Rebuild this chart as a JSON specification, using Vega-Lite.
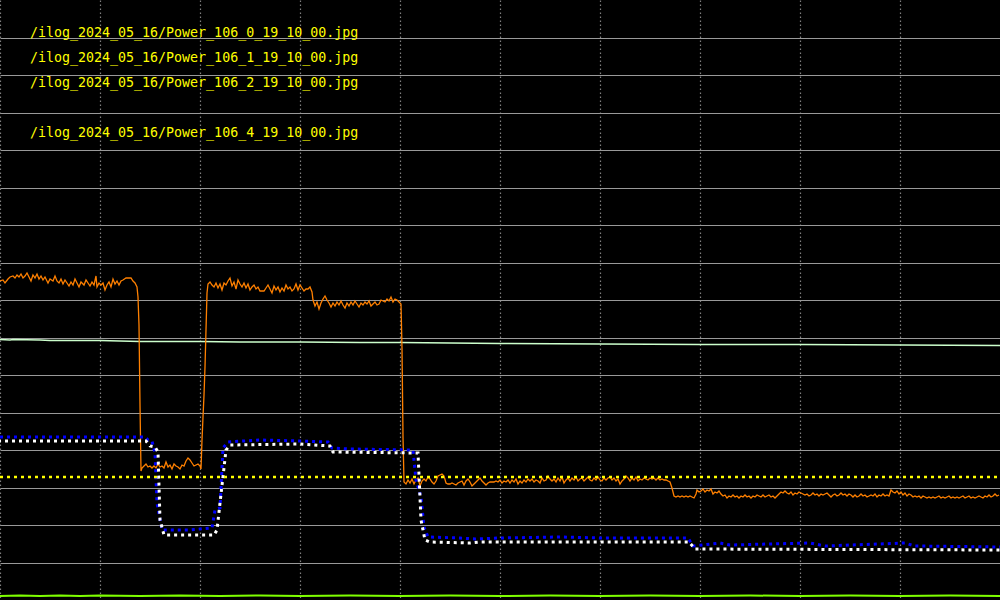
{
  "$schema": "https://vega.github.io/schema/vega-lite/v6.json",
  "width": 1000,
  "height": 600,
  "autosize": {"type": "none"},
  "padding": 0,
  "background": "#000000",
  "config": {
    "view": {"stroke": null},
    "axis": {"minExtent": 0, "maxExtent": 0, "domain": false, "ticks": false, "labels": false, "title": null, "grid": true}
  },
  "datasets": {
    "orange": [
      {"x":0,"y":319},{"x":3,"y":320},{"x":5,"y":317},{"x":8,"y":321},{"x":10,"y":323},{"x":13,"y":324},{"x":15,"y":322},{"x":17,"y":325},{"x":19,"y":323},{"x":21,"y":326},{"x":23,"y":322},{"x":25,"y":324},{"x":27,"y":327},{"x":29,"y":323},{"x":31,"y":319},{"x":33,"y":325},{"x":35,"y":322},{"x":37,"y":326},{"x":39,"y":321},{"x":41,"y":324},{"x":43,"y":320},{"x":45,"y":323},{"x":48,"y":317},{"x":50,"y":321},{"x":53,"y":319},{"x":55,"y":324},{"x":57,"y":319},{"x":59,"y":317},{"x":61,"y":321},{"x":63,"y":316},{"x":65,"y":320},{"x":67,"y":317},{"x":69,"y":314},{"x":71,"y":318},{"x":73,"y":315},{"x":75,"y":321},{"x":77,"y":317},{"x":79,"y":313},{"x":81,"y":318},{"x":84,"y":315},{"x":86,"y":320},{"x":88,"y":317},{"x":90,"y":314},{"x":92,"y":318},{"x":94,"y":315},{"x":96,"y":324},{"x":97,"y":313},{"x":99,"y":317},{"x":101,"y":315},{"x":103,"y":317},{"x":105,"y":310},{"x":107,"y":315},{"x":109,"y":318},{"x":111,"y":313},{"x":113,"y":321},{"x":115,"y":316},{"x":117,"y":319},{"x":119,"y":315},{"x":121,"y":319},{"x":123,"y":320},{"x":126,"y":322},{"x":129,"y":322},{"x":131,"y":322},{"x":133,"y":319},{"x":135,"y":317},{"x":137,"y":313},{"x":138,"y":303},{"x":139,"y":275},{"x":140,"y":195},{"x":141,"y":129},{"x":142,"y":132},{"x":144,"y":134},{"x":146,"y":136},{"x":148,"y":133},{"x":150,"y":134},{"x":152,"y":132},{"x":154,"y":134},{"x":156,"y":132},{"x":158,"y":136},{"x":160,"y":133},{"x":162,"y":134},{"x":164,"y":132},{"x":166,"y":138},{"x":168,"y":133},{"x":170,"y":135},{"x":172,"y":131},{"x":174,"y":136},{"x":176,"y":134},{"x":178,"y":133},{"x":180,"y":131},{"x":182,"y":135},{"x":184,"y":134},{"x":186,"y":139},{"x":188,"y":142},{"x":190,"y":140},{"x":192,"y":137},{"x":194,"y":134},{"x":196,"y":135},{"x":198,"y":136},{"x":200,"y":134},{"x":201,"y":131},{"x":202,"y":160},{"x":203,"y":183},{"x":204,"y":205},{"x":205,"y":233},{"x":206,"y":270},{"x":207,"y":307},{"x":208,"y":316},{"x":210,"y":318},{"x":212,"y":315},{"x":214,"y":313},{"x":216,"y":317},{"x":218,"y":312},{"x":220,"y":316},{"x":222,"y":310},{"x":224,"y":317},{"x":226,"y":315},{"x":228,"y":319},{"x":230,"y":322},{"x":232,"y":314},{"x":234,"y":318},{"x":236,"y":311},{"x":238,"y":320},{"x":240,"y":316},{"x":242,"y":313},{"x":244,"y":317},{"x":246,"y":312},{"x":248,"y":316},{"x":250,"y":310},{"x":252,"y":313},{"x":254,"y":315},{"x":256,"y":311},{"x":258,"y":313},{"x":260,"y":309},{"x":262,"y":309},{"x":264,"y":309},{"x":266,"y":312},{"x":268,"y":315},{"x":270,"y":311},{"x":272,"y":307},{"x":274,"y":314},{"x":276,"y":310},{"x":278,"y":313},{"x":280,"y":308},{"x":282,"y":312},{"x":284,"y":309},{"x":286,"y":315},{"x":288,"y":311},{"x":290,"y":313},{"x":292,"y":309},{"x":294,"y":311},{"x":296,"y":316},{"x":298,"y":310},{"x":300,"y":315},{"x":302,"y":312},{"x":304,"y":309},{"x":306,"y":311},{"x":308,"y":311},{"x":310,"y":313},{"x":312,"y":308},{"x":313,"y":300},{"x":315,"y":294},{"x":317,"y":298},{"x":319,"y":291},{"x":321,"y":297},{"x":323,"y":301},{"x":325,"y":304},{"x":327,"y":300},{"x":329,"y":297},{"x":331,"y":293},{"x":333,"y":297},{"x":335,"y":294},{"x":337,"y":298},{"x":339,"y":295},{"x":341,"y":299},{"x":343,"y":295},{"x":345,"y":292},{"x":347,"y":297},{"x":349,"y":294},{"x":351,"y":298},{"x":353,"y":295},{"x":355,"y":299},{"x":357,"y":296},{"x":359,"y":293},{"x":361,"y":297},{"x":363,"y":295},{"x":365,"y":298},{"x":367,"y":296},{"x":369,"y":299},{"x":371,"y":294},{"x":373,"y":296},{"x":375,"y":298},{"x":377,"y":295},{"x":379,"y":296},{"x":381,"y":300},{"x":383,"y":299},{"x":385,"y":298},{"x":387,"y":301},{"x":389,"y":299},{"x":391,"y":303},{"x":393,"y":298},{"x":395,"y":301},{"x":397,"y":300},{"x":399,"y":298},{"x":401,"y":296},{"x":402,"y":252},{"x":403,"y":163},{"x":404,"y":118},{"x":406,"y":116},{"x":408,"y":120},{"x":410,"y":117},{"x":412,"y":121},{"x":414,"y":116},{"x":416,"y":120},{"x":418,"y":122},{"x":420,"y":114},{"x":422,"y":119},{"x":424,"y":121},{"x":426,"y":119},{"x":428,"y":123},{"x":430,"y":121},{"x":432,"y":118},{"x":434,"y":116},{"x":436,"y":119},{"x":438,"y":124},{"x":440,"y":125},{"x":442,"y":126},{"x":444,"y":124},{"x":446,"y":117},{"x":448,"y":116},{"x":450,"y":116},{"x":452,"y":117},{"x":454,"y":116},{"x":456,"y":115},{"x":458,"y":117},{"x":460,"y":118},{"x":462,"y":119},{"x":464,"y":115},{"x":466,"y":119},{"x":468,"y":121},{"x":470,"y":118},{"x":472,"y":114},{"x":474,"y":116},{"x":476,"y":118},{"x":478,"y":120},{"x":480,"y":122},{"x":482,"y":119},{"x":484,"y":117},{"x":486,"y":115},{"x":488,"y":117},{"x":490,"y":118},{"x":492,"y":118},{"x":494,"y":118},{"x":496,"y":119},{"x":498,"y":118},{"x":500,"y":120},{"x":502,"y":117},{"x":504,"y":119},{"x":506,"y":118},{"x":508,"y":120},{"x":510,"y":117},{"x":512,"y":120},{"x":514,"y":118},{"x":516,"y":121},{"x":518,"y":116},{"x":520,"y":119},{"x":522,"y":117},{"x":524,"y":120},{"x":526,"y":118},{"x":528,"y":121},{"x":530,"y":119},{"x":532,"y":121},{"x":534,"y":118},{"x":536,"y":120},{"x":538,"y":119},{"x":540,"y":117},{"x":542,"y":122},{"x":544,"y":119},{"x":546,"y":120},{"x":548,"y":124},{"x":550,"y":121},{"x":552,"y":119},{"x":554,"y":121},{"x":556,"y":118},{"x":558,"y":122},{"x":560,"y":119},{"x":562,"y":123},{"x":564,"y":117},{"x":566,"y":120},{"x":568,"y":122},{"x":570,"y":119},{"x":572,"y":122},{"x":574,"y":120},{"x":576,"y":123},{"x":578,"y":119},{"x":580,"y":121},{"x":582,"y":122},{"x":584,"y":119},{"x":586,"y":121},{"x":588,"y":123},{"x":590,"y":120},{"x":592,"y":119},{"x":594,"y":122},{"x":596,"y":120},{"x":598,"y":123},{"x":600,"y":120},{"x":602,"y":119},{"x":604,"y":122},{"x":606,"y":120},{"x":608,"y":122},{"x":610,"y":123},{"x":612,"y":120},{"x":614,"y":122},{"x":616,"y":119},{"x":618,"y":121},{"x":620,"y":116},{"x":622,"y":119},{"x":624,"y":121},{"x":626,"y":124},{"x":628,"y":122},{"x":630,"y":119},{"x":632,"y":122},{"x":634,"y":120},{"x":636,"y":123},{"x":638,"y":119},{"x":640,"y":121},{"x":642,"y":120},{"x":644,"y":122},{"x":646,"y":121},{"x":648,"y":120},{"x":650,"y":122},{"x":652,"y":121},{"x":654,"y":122},{"x":656,"y":120},{"x":658,"y":122},{"x":660,"y":120},{"x":662,"y":121},{"x":664,"y":120},{"x":666,"y":120},{"x":668,"y":119},{"x":670,"y":118},{"x":672,"y":112},{"x":674,"y":104},{"x":676,"y":103},{"x":678,"y":104},{"x":680,"y":103},{"x":682,"y":104},{"x":684,"y":103},{"x":686,"y":104},{"x":688,"y":103},{"x":690,"y":104},{"x":692,"y":103},{"x":694,"y":102},{"x":696,"y":106},{"x":697,"y":110},{"x":699,"y":108},{"x":701,"y":109},{"x":703,"y":111},{"x":705,"y":108},{"x":707,"y":110},{"x":709,"y":109},{"x":711,"y":111},{"x":713,"y":106},{"x":715,"y":108},{"x":717,"y":107},{"x":719,"y":109},{"x":721,"y":106},{"x":723,"y":104},{"x":725,"y":105},{"x":727,"y":102},{"x":729,"y":104},{"x":731,"y":103},{"x":733,"y":105},{"x":735,"y":103},{"x":737,"y":104},{"x":739,"y":102},{"x":741,"y":104},{"x":743,"y":103},{"x":745,"y":105},{"x":747,"y":103},{"x":749,"y":104},{"x":751,"y":102},{"x":753,"y":104},{"x":755,"y":103},{"x":757,"y":105},{"x":759,"y":104},{"x":761,"y":103},{"x":763,"y":105},{"x":765,"y":103},{"x":767,"y":104},{"x":769,"y":105},{"x":771,"y":103},{"x":773,"y":104},{"x":775,"y":102},{"x":777,"y":104},{"x":779,"y":106},{"x":781,"y":108},{"x":783,"y":107},{"x":785,"y":109},{"x":787,"y":107},{"x":789,"y":106},{"x":791,"y":108},{"x":793,"y":105},{"x":795,"y":107},{"x":797,"y":106},{"x":799,"y":108},{"x":801,"y":107},{"x":803,"y":106},{"x":805,"y":105},{"x":807,"y":106},{"x":809,"y":104},{"x":811,"y":105},{"x":813,"y":107},{"x":815,"y":105},{"x":817,"y":106},{"x":819,"y":104},{"x":821,"y":106},{"x":823,"y":105},{"x":825,"y":106},{"x":827,"y":107},{"x":829,"y":105},{"x":831,"y":103},{"x":833,"y":105},{"x":835,"y":106},{"x":837,"y":104},{"x":839,"y":105},{"x":841,"y":107},{"x":843,"y":105},{"x":845,"y":106},{"x":847,"y":104},{"x":849,"y":106},{"x":851,"y":105},{"x":853,"y":103},{"x":855,"y":105},{"x":857,"y":103},{"x":859,"y":104},{"x":861,"y":106},{"x":863,"y":104},{"x":865,"y":105},{"x":867,"y":103},{"x":869,"y":104},{"x":871,"y":105},{"x":873,"y":104},{"x":875,"y":106},{"x":877,"y":103},{"x":879,"y":105},{"x":881,"y":104},{"x":883,"y":106},{"x":885,"y":104},{"x":887,"y":105},{"x":889,"y":104},{"x":891,"y":110},{"x":893,"y":108},{"x":895,"y":107},{"x":897,"y":109},{"x":899,"y":106},{"x":901,"y":108},{"x":903,"y":105},{"x":905,"y":107},{"x":907,"y":104},{"x":909,"y":106},{"x":911,"y":105},{"x":913,"y":103},{"x":915,"y":104},{"x":917,"y":103},{"x":919,"y":104},{"x":921,"y":102},{"x":923,"y":104},{"x":925,"y":103},{"x":927,"y":102},{"x":929,"y":103},{"x":931,"y":102},{"x":933,"y":103},{"x":935,"y":102},{"x":937,"y":103},{"x":939,"y":104},{"x":941,"y":102},{"x":943,"y":103},{"x":945,"y":102},{"x":947,"y":103},{"x":949,"y":104},{"x":951,"y":102},{"x":953,"y":103},{"x":955,"y":102},{"x":957,"y":103},{"x":959,"y":102},{"x":961,"y":103},{"x":963,"y":104},{"x":965,"y":102},{"x":967,"y":103},{"x":969,"y":104},{"x":971,"y":102},{"x":973,"y":103},{"x":975,"y":102},{"x":977,"y":103},{"x":979,"y":104},{"x":981,"y":103},{"x":983,"y":102},{"x":985,"y":104},{"x":987,"y":103},{"x":989,"y":105},{"x":991,"y":103},{"x":993,"y":104},{"x":995,"y":106},{"x":997,"y":104},{"x":999,"y":105}
    ],
    "pale": [
      {"x":0,"y":260.5},{"x":10,"y":260},{"x":13,"y":260.5},{"x":40,"y":260},{"x":50,"y":259.5},{"x":100,"y":259.5},{"x":140,"y":258.5},{"x":200,"y":258.5},{"x":240,"y":258},{"x":300,"y":258},{"x":360,"y":257.5},{"x":400,"y":257.5},{"x":450,"y":257},{"x":500,"y":256.5},{"x":600,"y":256},{"x":700,"y":255.5},{"x":800,"y":255.5},{"x":900,"y":255},{"x":1000,"y":254.5}
    ],
    "blue": [
      {"x":0,"y":163},{"x":145,"y":163},{"x":148,"y":160},{"x":152,"y":159},{"x":155,"y":147},{"x":157,"y":97},{"x":162,"y":70},{"x":165,"y":70},{"x":190,"y":70},{"x":200,"y":71},{"x":212,"y":72},{"x":215,"y":90},{"x":220,"y":92},{"x":223,"y":152},{"x":228,"y":158},{"x":260,"y":160},{"x":300,"y":159},{"x":328,"y":158},{"x":332,"y":152},{"x":350,"y":151},{"x":413,"y":150},{"x":416,"y":120},{"x":421,"y":103},{"x":424,"y":73},{"x":428,"y":63},{"x":460,"y":62},{"x":475,"y":61},{"x":500,"y":62},{"x":560,"y":63},{"x":600,"y":62},{"x":650,"y":62},{"x":688,"y":62},{"x":693,"y":54},{"x":720,"y":57},{"x":730,"y":55},{"x":810,"y":57},{"x":825,"y":54},{"x":905,"y":57},{"x":915,"y":54},{"x":1000,"y":53}
    ],
    "white": [
      {"x":0,"y":159},{"x":146,"y":159},{"x":150,"y":154},{"x":155,"y":153},{"x":158,"y":148},{"x":160,"y":80},{"x":164,"y":65},{"x":166,"y":65},{"x":214,"y":65},{"x":217,"y":70},{"x":219,"y":88},{"x":226,"y":150},{"x":230,"y":155},{"x":300,"y":156},{"x":330,"y":154},{"x":333,"y":148},{"x":418,"y":147},{"x":421,"y":80},{"x":425,"y":60},{"x":430,"y":58},{"x":470,"y":57},{"x":480,"y":58},{"x":689,"y":58},{"x":695,"y":51},{"x":1000,"y":50}
    ],
    "green": [
      {"x":0,"y":4},{"x":20,"y":4.5},{"x":40,"y":4},{"x":60,"y":4.5},{"x":80,"y":4},{"x":100,"y":4.5},{"x":140,"y":4},{"x":180,"y":4.5},{"x":220,"y":4},{"x":260,"y":4.5},{"x":300,"y":4},{"x":350,"y":4.5},{"x":400,"y":4},{"x":450,"y":4.5},{"x":500,"y":4},{"x":550,"y":4.5},{"x":600,"y":4},{"x":650,"y":4.5},{"x":700,"y":4},{"x":750,"y":4.5},{"x":800,"y":4},{"x":850,"y":4.5},{"x":900,"y":4},{"x":950,"y":4.5},{"x":1000,"y":4}
    ],
    "limit": [{"x":0,"y":123},{"x":1000,"y":123}],
    "labels": [
      {"x":30,"y":567,"t":"/ilog_2024_05_16/Power_106_0_19_10_00.jpg"},
      {"x":30,"y":542,"t":"/ilog_2024_05_16/Power_106_1_19_10_00.jpg"},
      {"x":30,"y":517,"t":"/ilog_2024_05_16/Power_106_2_19_10_00.jpg"},
      {"x":30,"y":467,"t":"/ilog_2024_05_16/Power_106_4_19_10_00.jpg"}
    ]
  },
  "encoding": {
    "x": {"field": "x", "type": "quantitative", "scale": {"domain": [0, 1000], "nice": false, "zero": false},
      "axis": {"values": [0,100,200,300,400,500,600,700,800,900], "gridColor": "#808080", "gridDash": [1.5,2.5], "gridWidth": 1.2}},
    "y": {"field": "y", "type": "quantitative", "scale": {"domain": [0, 600], "nice": false, "zero": false},
      "axis": {"values": [37.5,75,112.5,150,187.5,225,262.5,300,337.5,375,412.5,450,487.5,525,562.5], "gridColor": "#999999", "gridWidth": 1}}
  },
  "layer": [
    {"data": {"name": "green"}, "mark": {"type": "line", "color": "#7fff00", "strokeWidth": 2}},
    {"data": {"name": "pale"}, "mark": {"type": "line", "color": "#ccffcc", "strokeWidth": 1.5}},
    {"data": {"name": "orange"}, "mark": {"type": "line", "color": "#ff8000", "strokeWidth": 1.3}},
    {"data": {"name": "blue"}, "mark": {"type": "line", "color": "#0000ff", "strokeWidth": 3, "strokeDash": [3,4], "strokeCap": "butt"}},
    {"data": {"name": "white"}, "mark": {"type": "line", "color": "#ffffff", "strokeWidth": 3, "strokeDash": [3,4], "strokeDashOffset": 2, "strokeCap": "butt"}},
    {"data": {"name": "limit"}, "mark": {"type": "line", "color": "#ffff00", "strokeWidth": 2.5, "strokeDash": [3,4], "strokeCap": "butt"}},
    {"data": {"name": "labels"}, "mark": {"type": "text", "color": "#ffff00", "font": "DejaVu Sans Mono", "fontSize": 13.3, "align": "left", "baseline": "middle"},
      "encoding": {"text": {"field": "t", "type": "nominal"}}}
  ]
}
